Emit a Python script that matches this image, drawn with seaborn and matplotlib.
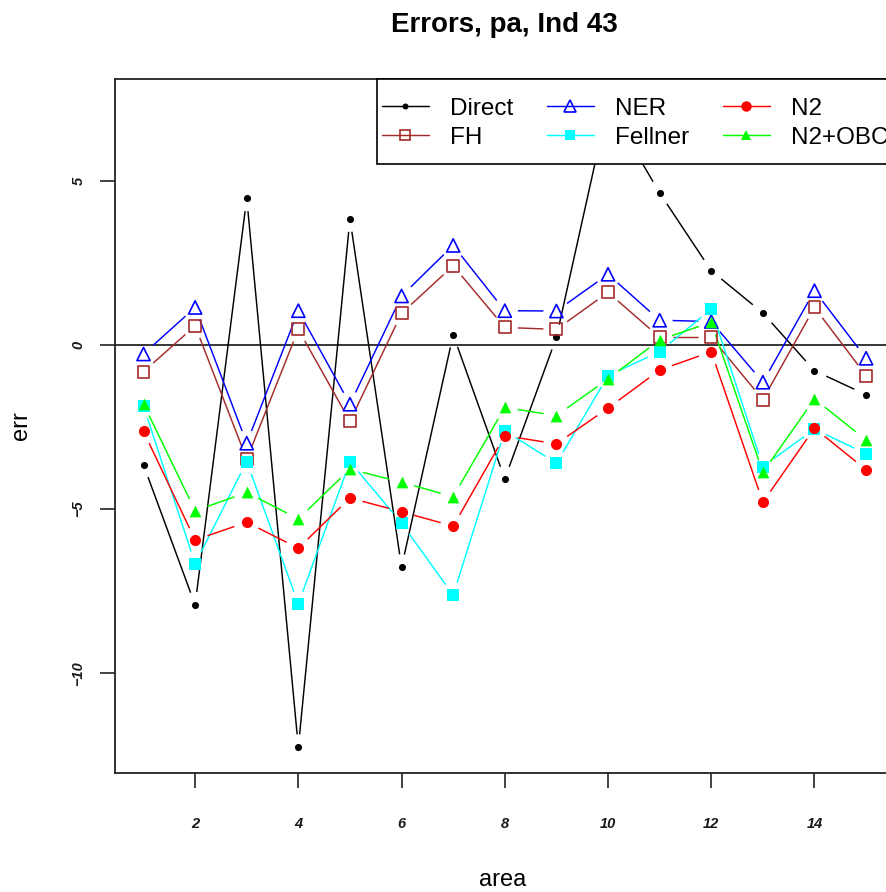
import numpy as np
import pandas as pd
import matplotlib
matplotlib.use("Agg")
import matplotlib.pyplot as plt
import seaborn as sns
from matplotlib.collections import LineCollection
from matplotlib.lines import Line2D
from matplotlib.patches import Rectangle

# values
areas = list(range(1, 16))
direct = [-3.65, -7.92, 4.48, -12.26, 3.85, -6.77, 0.32, -4.08, 0.24, 7.33, 4.64, 2.27, 0.98, -0.78, -1.51]
fh = [-0.81, 0.59, -3.48, 0.48, -2.32, 0.97, 2.42, 0.54, 0.48, 1.61, 0.24, 0.24, -1.66, 1.15, -0.93]
ner = [-0.27, 1.15, -2.99, 1.05, -1.80, 1.50, 3.04, 1.05, 1.04, 2.16, 0.76, 0.72, -1.13, 1.66, -0.40]
fellner = [-1.85, -6.67, -3.55, -7.89, -3.55, -5.43, -7.62, -2.61, -3.60, -0.93, -0.20, 1.10, -3.70, -2.56, -3.31]
n2 = [-2.63, -5.94, -5.40, -6.19, -4.66, -5.08, -5.52, -2.76, -3.01, -1.92, -0.76, -0.20, -4.79, -2.53, -3.80]
n2obc = [-1.79, -5.05, -4.49, -5.30, -3.78, -4.18, -4.62, -1.90, -2.15, -1.03, 0.16, 0.70, -3.88, -1.64, -2.89]

series_names = ["Direct", "FH", "NER", "Fellner", "N2", "N2+OBC"]
series_values = [direct, fh, ner, fellner, n2, n2obc]

# style per series: colour, marker, scatter size, filled?, legend marker size
styles = {
    "Direct": ("black", "o", 26, True, 4.3),
    "FH": ("#A52A2A", "s", 74, False, 7.5),
    "NER": ("#0000FF", "^", 90, False, 8.0),
    "Fellner": ("#00FFFF", "s", 72, True, 7.5),
    "N2": ("#FF0000", "o", 64, True, 7.5),
    "N2+OBC": ("#00FF00", "^", 72, True, 7.5),
}

GAP_PX = 13


def gapped_segments(ax, xs, ys, gap):
    # lines of R's type="b": every segment stops short of the points
    pts = ax.transData.transform(np.column_stack([xs, ys]))
    inv = ax.transData.inverted()
    segs = []
    for p0, p1 in zip(pts[:-1], pts[1:]):
        d = p1 - p0
        length = np.hypot(d[0], d[1])
        if length <= 2 * gap:
            continue
        u = d / length
        segs.append(inv.transform(np.array([p0 + u * gap, p1 - u * gap])))
    return segs


def main():
    sns.set_style("ticks")
    plt.rcParams["font.family"] = ["Liberation Sans", "DejaVu Sans"]
    plt.rcParams["text.color"] = "black"
    plt.rcParams["axes.labelcolor"] = "black"

    df = pd.DataFrame({
        "area": areas * len(series_names),
        "err": sum(series_values, []),
        "method": [n for n in series_names for _ in areas],
    })

    W, H = 887, 892
    fig = plt.figure(figsize=(W / 100, H / 100), dpi=100)
    left, right, top, bottom = 114.6, 895.0, 79.0, 773.0
    ax = fig.add_axes([left / W, 1 - bottom / H, (right - left) / W, (bottom - top) / H])

    # R-style 4% axis padding
    ymin, ymax = df["err"].min(), df["err"].max()
    ypad = (ymax - ymin) * 0.04
    ax.set_xlim(1 - 14 * 0.04, 15 + 14 * 0.04)
    ax.set_ylim(ymin - ypad, ymax + ypad)

    ax.axhline(0, color="black", lw=1.1, zorder=1)

    for name in series_names:
        color, marker, size, filled, _ = styles[name]
        sub = df[df["method"] == name]
        segs = gapped_segments(ax, sub["area"].values, sub["err"].values, GAP_PX)
        ax.add_collection(LineCollection(segs, colors=color, linewidths=1.05, zorder=2))
        if filled:
            sns.scatterplot(data=sub, x="area", y="err", marker=marker, s=size,
                            color=color, edgecolor=color, linewidth=0, ax=ax,
                            zorder=3, legend=False)
        else:
            sns.scatterplot(data=sub, x="area", y="err", marker=marker, s=size,
                            facecolor="none", edgecolor=color, linewidth=1.2, ax=ax,
                            zorder=3, legend=False)

    ax.set_xticks([2, 4, 6, 8, 10, 12, 14])
    ax.set_yticks([-10, -5, 0, 5])
    ax.tick_params(axis="x", direction="out", length=10.8, width=1.2, pad=21,
                   labelsize=10.5, color="#222222")
    ax.tick_params(axis="y", direction="out", length=10.5, width=1.2, pad=10.5,
                   labelsize=10.5, labelrotation=90, color="#222222")
    for lab in ax.get_xticklabels() + ax.get_yticklabels():
        lab.set_fontweight("bold")
        lab.set_fontstyle("italic")
        lab.set_color("#1a1a1a")
    for lab in ax.get_yticklabels():
        lab.set_va("center")
    for sp in ax.spines.values():
        sp.set_linewidth(1.3)
        sp.set_color("#222222")

    ax.set_title("Errors, pa, Ind 43", fontsize=20, fontweight="bold", pad=34, color="black")
    ax.set_xlabel("area", fontsize=17)
    ax.xaxis.set_label_coords((503 - left) / (right - left), -(886 - bottom) / (bottom - top))
    ax.xaxis.label.set_va("baseline")
    ax.set_ylabel("err", fontsize=17)
    ax.yaxis.set_label_coords((21 - left) / (right - left), 0.5)
    ax.yaxis.label.set_va("center")

    # legend box (white, drawn over the lines), right edge off the picture like the original
    box = Rectangle((376.7 / W, 1 - 164.3 / H), (right - 376.7) / W, (164.3 - top) / H,
                    transform=fig.transFigure, facecolor="white", edgecolor="black",
                    linewidth=1.2, zorder=4, clip_on=False)
    ax.add_patch(box)

    handles = []
    for name in series_names:
        color, marker, size, filled, msize = styles[name]
        handles.append(Line2D([], [], color=color, lw=1.05, marker=marker, markersize=msize,
                              markerfacecolor=color if filled else "none",
                              markeredgecolor=color, markeredgewidth=1.2 if not filled else 0))
    leg = ax.legend(handles, series_names, ncol=3, loc="upper left",
                    bbox_to_anchor=(381.7 / W, 1 - 97.5 / H), bbox_transform=fig.transFigure,
                    frameon=False, fontsize=17.5, borderpad=0, borderaxespad=0,
                    handlelength=1.93, handletextpad=0.86, labelspacing=0.3,
                    columnspacing=1.4)
    leg.set_zorder(5)

    fig.savefig("out.png", dpi=100)
    plt.close(fig)


if __name__ == "__main__":
    main()
